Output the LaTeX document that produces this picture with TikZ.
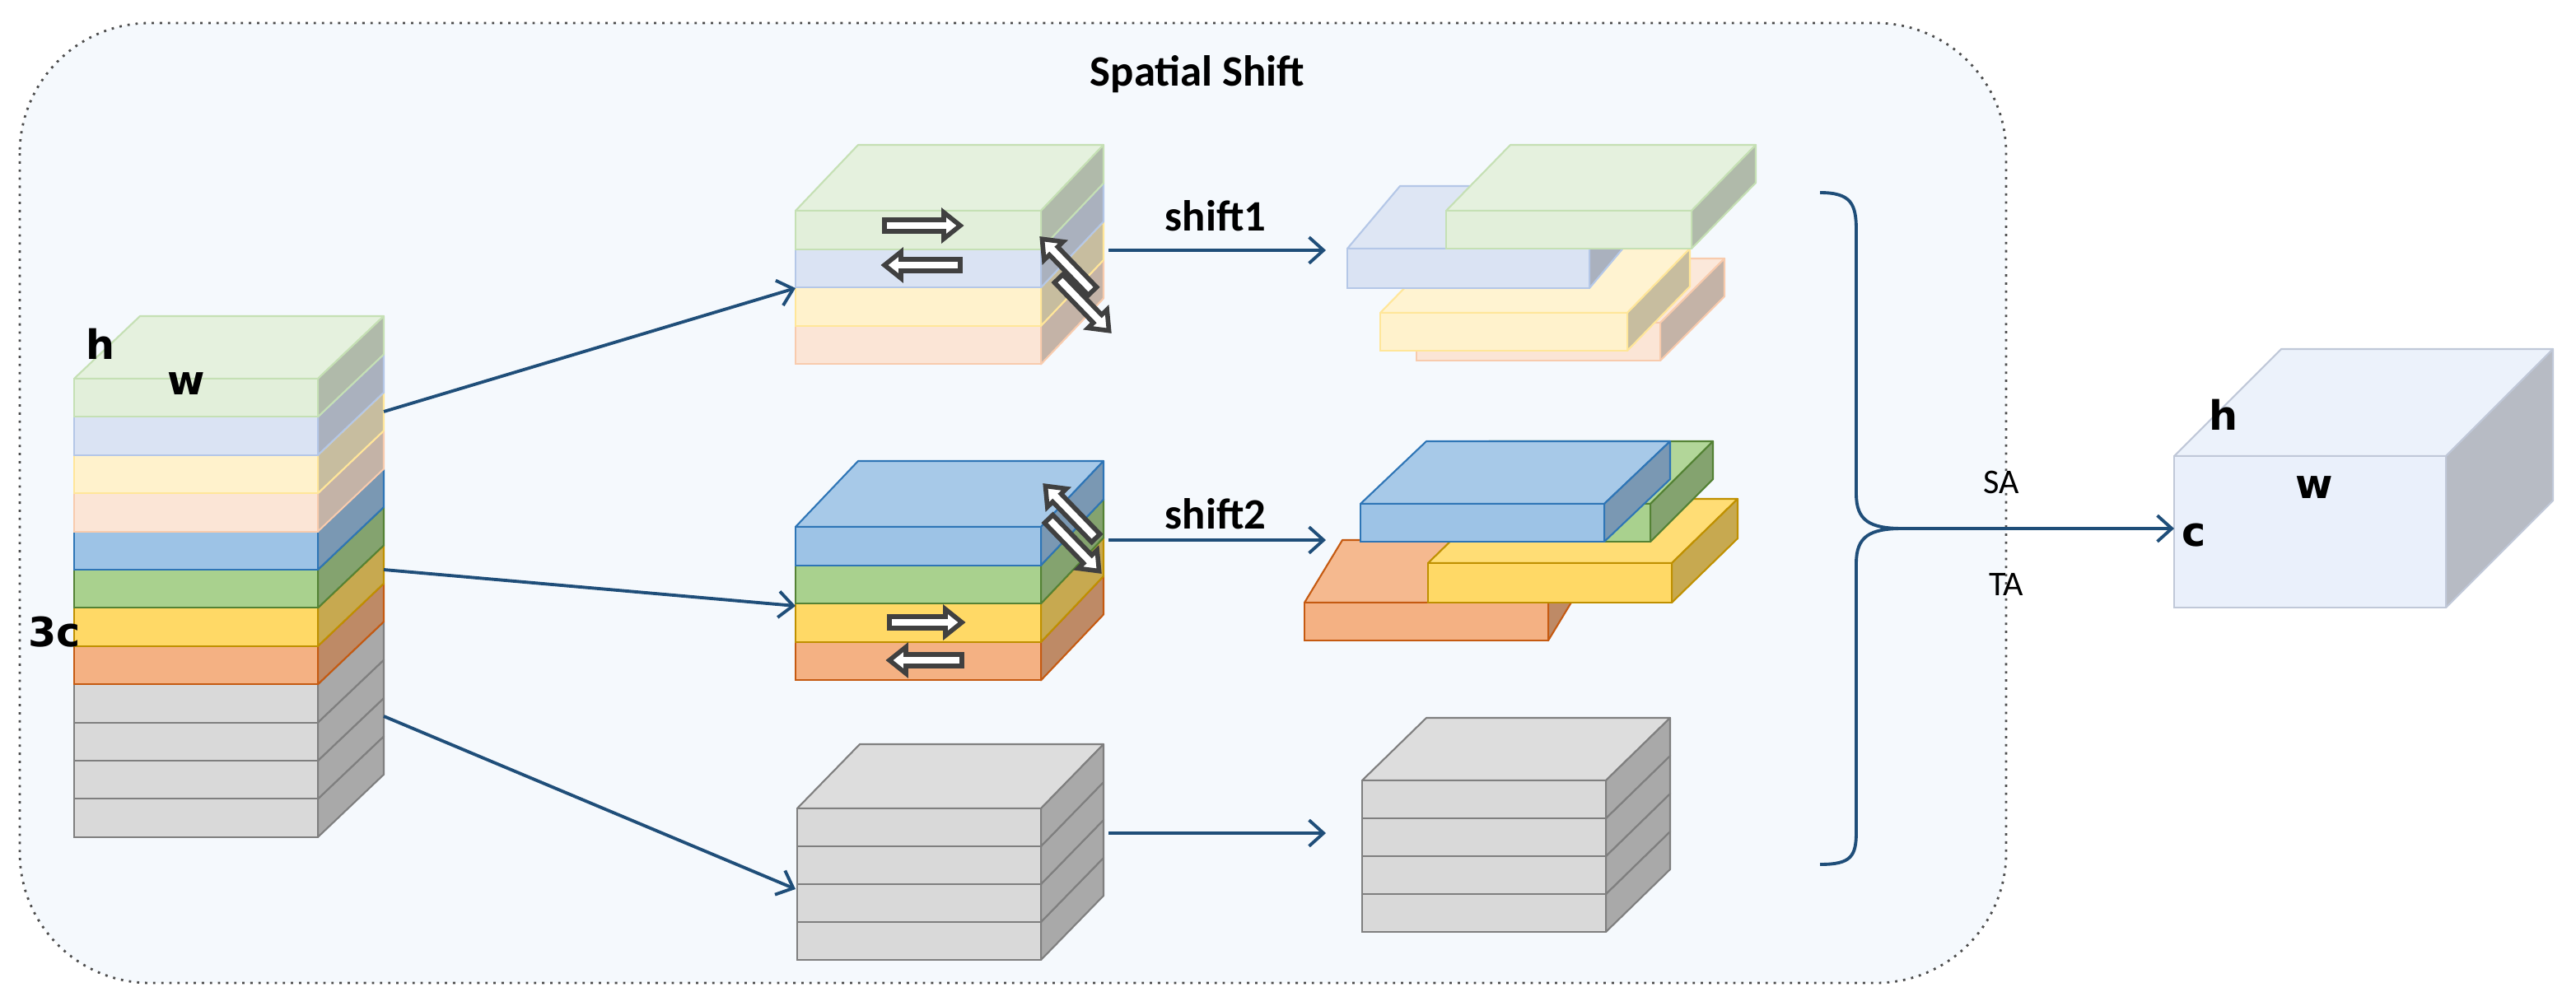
\documentclass[tikz,border=0pt]{standalone}
\usepackage{fontspec}
\setmainfont{Carlito}
\newfontfamily\dv{DejaVu Sans}
\usetikzlibrary{arrows.meta}
\definecolor{lgF}{HTML}{E2EFDA}\definecolor{lgD}{HTML}{C5E0B4}
\definecolor{lbF}{HTML}{DAE3F3}\definecolor{lbD}{HTML}{B4C7E7}
\definecolor{lyF}{HTML}{FFF2CC}\definecolor{lyD}{HTML}{FFE699}
\definecolor{lpF}{HTML}{FBE5D6}\definecolor{lpD}{HTML}{F8CBAD}
\definecolor{bF}{HTML}{9DC3E6}\definecolor{bD}{HTML}{2E75B6}
\definecolor{gF}{HTML}{A9D18E}\definecolor{gD}{HTML}{548235}
\definecolor{yF}{HTML}{FFD966}\definecolor{yD}{HTML}{BF9000}
\definecolor{oF}{HTML}{F4B183}\definecolor{oD}{HTML}{C55A11}
\definecolor{grF}{HTML}{D9D9D9}\definecolor{grD}{HTML}{7F7F7F}
\definecolor{cubeF}{HTML}{EAF0FB}\definecolor{cubeD}{HTML}{C0C8D8}
\definecolor{arr}{HTML}{1F4E79}
\definecolor{bg}{HTML}{F5F9FD}
% \slab{x}{ytop}{w}{h}{dx}{dy}{fill}{draw}
\newcommand\slab[8]{%
  \filldraw[fill=#7!90!white,draw=#8,line width=0.6pt,line join=round]
    (#1,#2) -- ++(#5,#6) -- ++(#3,0) -- ++(-#5,-#6) -- cycle;
  \filldraw[fill=#7!78!black,draw=#8,line width=0.6pt,line join=round]
    (#1+#3,#2) -- ++(#5,#6) -- ++(0,#4) -- ++(-#5,-#6) -- cycle;
  \filldraw[fill=#7,draw=#8,line width=0.6pt] (#1,#2) rectangle ++(#3,#4);}
% block arrow \barrow{cx}{cy}{rotate}{length}
\newcommand\barrow[4]{%
  \begin{scope}[shift={(#1,#2)},rotate=#3]
  \filldraw[fill=white,draw=black!75,line width=1.6pt,line join=miter]
    (-#4/2,-3.5) -- (#4/2-10,-3.5) -- (#4/2-10,-8) -- (#4/2,0) -- (#4/2-10,8)
    -- (#4/2-10,3.5) -- (-#4/2,3.5) -- cycle;
  \end{scope}}
\tikzset{conn/.style={draw=arr,line width=1.1pt,-{Straight Barb[length=5pt,width=9pt]}},
  lbl/.style={font=\dv\bfseries\fontsize{14}{14}\selectfont,inner sep=0pt},
  tt/.style={font=\bfseries\fontsize{15}{15}\selectfont,inner sep=0pt}}
\begin{document}
\begin{tikzpicture}[x=0.02cm,y=-0.02cm]
\useasboundingbox (0,0) rectangle (1564,611);
\draw[fill=bg,draw=black!70,dotted,line width=0.8pt,rounded corners=45pt] (12,14) rectangle (1218,597);
\node[tt] (title) at (727,45) {Spatial Shift};
% left stack
\foreach \i/\f/\d in {11/grF/grD,10/grF/grD,9/grF/grD,8/grF/grD,7/oF/oD,6/yF/yD,5/gF/gD,4/bF/bD,3/lpF/lpD,2/lyF/lyD,1/lbF/lbD,0/lgF/lgD}{
  \slab{45}{230+23.2*\i}{148}{23.2}{40}{-38}{\f}{\d}}
\node[lbl] (h1) at (61,209) {h};
\node[lbl] (w1) at (113,233) {w};
\node[lbl] (c1) at (33,384) {3c};
% top middle stack
\foreach \i/\f/\d in {3/lpF/lpD,2/lyF/lyD,1/lbF/lbD,0/lgF/lgD}{
  \slab{483}{128+23.3*\i}{149}{23.3}{38}{-40}{\f}{\d}}
\barrow{560}{137}{0}{46}
\barrow{560}{161}{180}{46}
\barrow{648}{161}{134}{44}
\barrow{658}{185}{-46}{44}
% middle stack
\foreach \i/\f/\d in {3/oF/oD,2/yF/yD,1/gF/gD,0/bF/bD}{
  \slab{483}{320+23.3*\i}{149}{23.3}{38}{-40}{\f}{\d}}
\barrow{562}{378}{0}{44}
\barrow{562}{401}{180}{44}
\barrow{650}{311}{134}{44}
\barrow{652}{331}{-46}{44}
% bottom stack
\foreach \i in {3,2,1,0}{
  \slab{484}{491+23*\i}{148}{23}{38}{-39}{grF}{grD}}
% shift1 result
\slab{860}{196}{148}{23}{39}{-39}{lpF}{lpD}
\slab{838}{190}{150}{23}{38}{-39}{lyF}{lyD}
\slab{818}{151}{147}{24}{32}{-38}{lbF}{lbD}
\slab{878}{128}{149}{23}{39}{-40}{lgF}{lgD}
% shift2 result
\slab{792}{366}{148}{23}{23}{-38}{oF}{oD}
\slab{867}{342}{148}{24}{40}{-39}{yF}{yD}
\slab{866}{306}{136}{23}{38}{-38}{gF}{gD}
\slab{826}{306}{148}{23}{40}{-38}{bF}{bD}
% gray result
\foreach \i in {3,2,1,0}{
  \slab{827}{474+23*\i}{148}{23}{39}{-38}{grF}{grD}}
% output cube
\slab{1320}{277}{165}{92}{65}{-65}{cubeF}{cubeD}
\node[lbl] (h2) at (1350,252) {h};
\node[lbl] (w2) at (1405,296) {w};
\node[lbl] (c2) at (1332,325) {c};
% connectors
\coordinate (a1s) at (233,250); \coordinate (a1e) at (483,175);
\coordinate (a2s) at (233,346); \coordinate (a2e) at (483,368);
\coordinate (a3s) at (233,435); \coordinate (a3e) at (483,540);
\draw[conn] (a1s) -- (a1e);
\draw[conn] (a2s) -- (a2e);
\draw[conn] (a3s) -- (a3e);
\coordinate (s1s) at (673,152); \coordinate (s1e) at (805,152);
\coordinate (s2s) at (673,328); \coordinate (s2e) at (805,328);
\coordinate (s3s) at (673,506); \coordinate (s3e) at (805,506);
\draw[conn] (s1s) -- (s1e);
\draw[conn] (s2s) -- (s2e);
\draw[conn] (s3s) -- (s3e);
\node[tt] (sh1) at (738,131) {shift1};
\node[tt] (sh2) at (738,312) {shift2};
% brace
\draw[draw=arr,line width=1.1pt] (1105,117) .. controls (1124,117) and (1127,124) .. (1127,140) -- (1127,300)
  .. controls (1127,316) and (1135,321) .. (1155,321)
  .. controls (1135,321) and (1127,326) .. (1127,342) -- (1127,505)
  .. controls (1127,520) and (1124,525) .. (1105,525);
\coordinate (bs) at (1155,321); \coordinate (be) at (1320,321);
\draw[conn] (bs) -- (be);
\node[font=\fontsize{12}{12}\selectfont,inner sep=0pt] (sa) at (1215,293) {SA};
\node[font=\fontsize{12}{12}\selectfont,inner sep=0pt] (ta) at (1218,355) {TA};
\end{tikzpicture}
\end{document}
